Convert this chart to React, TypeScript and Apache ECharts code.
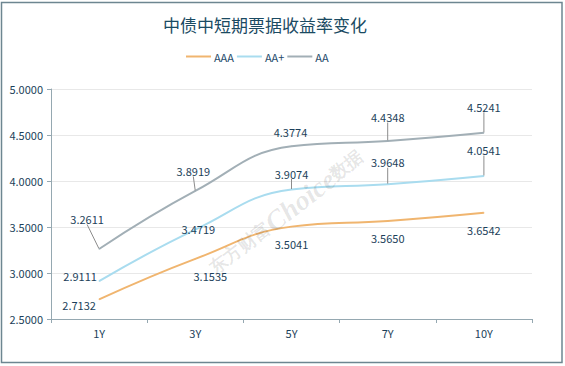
import React, { useEffect, useRef } from "react";
import * as echarts from "echarts";

const categories = ["1Y", "3Y", "5Y", "7Y", "10Y"];
const seriesNames = ["AAA", "AA+", "AA"];
const aaaValues = [2.7132, 3.1535, 3.5041, 3.565, 3.6542];
const aaPlusValues = [2.9111, 3.4719, 3.9074, 3.9648, 4.0541];
const aaValues = [3.2611, 3.8919, 4.3774, 4.4348, 4.5241];
const yTicks = [2.5, 3.0, 3.5, 4.0, 4.5, 5.0];

const colors = ["#f0b56f", "#a9dcef", "#a2afb6"];
// label offsets (dx, dy) per series and point
const labelOffsets = [
  [[-20, -5], [15, 6], [0, 6], [0, 6], [0, 6]],
  [[-19, 6], [3, 10], [0, -5], [0, -11], [0, -15]],
  [[-12, -19], [-2, -9], [-1, -3], [0, -13], [0, -15]],
];
const labelLineShow = [
  [false, false, false, false, false],
  [false, false, true, true, true],
  [true, true, false, true, true],
];

export default function App() {
  const ref = useRef<HTMLDivElement>(null);
  useEffect(() => {
    if (!ref.current) return;
    const chart = echarts.init(ref.current, null, { renderer: "svg" });
    const allValues = [aaaValues, aaPlusValues, aaValues];
    const textColor = "#1c3f5a";
    const font = "'Microsoft YaHei', 'Noto Sans CJK SC', sans-serif";
    chart.setOption({
      animation: false,
      textStyle: { fontFamily: font },
      title: {
        text: "中债中短期票据收益率变化",
        left: 158,
        top: 11,
        textStyle: { fontSize: 17, fontWeight: "normal", color: "#1a4a62", fontFamily: font },
      },
      legend: {
        data: seriesNames,
        left: 181,
        top: 46,
        icon: "rect",
        itemWidth: 25,
        itemHeight: 2,
        itemGap: 3,
        textStyle: { fontSize: 11, color: "#1e4a6a", fontFamily: font, padding: [0, 0, 0, -2] },
      },
      grid: { left: 51, right: 33, top: 89, bottom: 47, containLabel: false },
      xAxis: {
        type: "category",
        data: categories,
        boundaryGap: true,
        axisLine: { lineStyle: { color: "#95a8b1", width: 1 } },
        axisTick: { show: true, length: 4, lineStyle: { color: "#95a8b1" } },
        axisLabel: { color: textColor, fontSize: 11, margin: 8, fontFamily: font },
      },
      yAxis: {
        type: "value",
        min: yTicks[0],
        max: yTicks[yTicks.length - 1],
        interval: 0.5,
        axisLine: { show: true, lineStyle: { color: "#95a8b1", width: 1 } },
        axisTick: { show: true, length: 4, lineStyle: { color: "#95a8b1" } },
        axisLabel: {
          color: textColor,
          fontSize: 11,
          margin: 8,
          fontFamily: font,
          formatter: (v: number) => v.toFixed(4),
        },
        splitLine: { lineStyle: { color: "#e8e8e8" } },
      },
      graphic: [
        {
          type: "rect",
          shape: { x: 1.5, y: 2.5, width: 560.5, height: 360 },
          style: { fill: "none", stroke: "#6d8691", lineWidth: 1.5 },
          z: -1,
          silent: true,
        },
        {
          type: "text",
          x: 286,
          y: 212,
          rotation: 0.66,
          silent: true,
          z: 100,
          style: {
            text: "{a|东方财富}{b|Choice}{a|数据}",
            align: "center",
            verticalAlign: "middle",
            rich: {
              a: { fontSize: 18, fontFamily: "serif", fontWeight: "bold", fill: "rgba(0,0,0,0.1)" },
              b: { fontSize: 28, fontFamily: "serif", fontStyle: "italic", fontWeight: "bold", fill: "rgba(0,0,0,0.1)" },
            },
          },
        },
      ],
      series: seriesNames.map((name, si) => ({
        name,
        type: "line",
        smooth: 0.45,
        symbol: "circle",
        symbolSize: 1,
        showSymbol: true,
        color: colors[si],
        lineStyle: { color: colors[si], width: 2 },
        itemStyle: { color: colors[si] },
        label: {
          show: true,
          position: si === 0 ? "bottom" : "top",
          distance: 5,
          fontSize: 11,
          color: textColor,
          fontFamily: font,
          formatter: (p: any) => Number(p.value).toFixed(4),
        },
        labelLine: { show: false, lineStyle: { color: "#8c8c8c", width: 1 } },
        labelLayout: (params: any) => {
          const off = labelOffsets[si][params.dataIndex];
          return { dx: off[0], dy: off[1] };
        },
        data: allValues[si].map((v, i) => ({
          value: v,
          labelLine: { show: labelLineShow[si][i], lineStyle: { color: "#8c8c8c", width: 1 } },
        })),
      })),
    });
    return () => chart.dispose();
  }, []);
  return (
    <div
      ref={ref}
      style={{ position: "absolute", left: 0, top: 0, width: 565, height: 366, background: "#fff" }}
    />
  );
}
